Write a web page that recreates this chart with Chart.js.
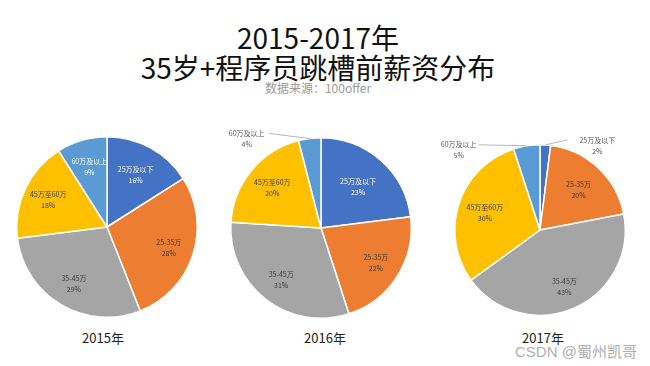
<!DOCTYPE html>
<html>
<head>
<meta charset="utf-8">
<script src="https://cdn.jsdelivr.net/npm/chart.js@4.4.1/dist/chart.umd.min.js"></script>
<style>
  html, body { margin: 0; padding: 0; background: #fff; }
  body { width: 650px; height: 366px; position: relative; overflow: hidden;
         font-family: "Noto Sans CJK SC", "Noto Sans", sans-serif; }
  .title { position: absolute; left: 0; width: 636px; text-align: center; color: #111; font-size: 28px; line-height: 30px; }
  .sub { position: absolute; left: 0; width: 636px; top: 79px; text-align: center; color: #9a9a9a; font-size: 12px; }
  .year { position: absolute; width: 80px; text-align: center; font-size: 13px; color: #222; }
  canvas { position: absolute; }
  .mark { position: absolute; left: 515px; top: 340px; font-size: 15px; color: #b0b0b0;
          font-family: "Liberation Sans", "Noto Sans CJK SC", sans-serif; }
</style>
</head>
<body>
<div class="title" style="top:22px">2015-2017年</div>
<div class="title" style="top:52px">35岁+程序员跳槽前薪资分布</div>
<div class="sub">数据来源：100offer</div>

<canvas id="pie2015" width="200" height="200" style="left:7px;top:127px"></canvas>
<canvas id="pie2016" width="200" height="200" style="left:221px;top:128px"></canvas>
<canvas id="pie2017" width="220" height="190" style="left:430px;top:135px"></canvas>

<div class="year" style="left:63px;top:328px">2015年</div>
<div class="year" style="left:285px;top:328px">2016年</div>
<div class="year" style="left:503px;top:328px">2017年</div>
<div class="mark">CSDN @蜀州凯哥</div>

<script>
const categories = ['25万及以下', '25-35万', '35-45万', '45万至60万', '60万及以上'];
const values2015 = [16, 28, 29, 18, 9];
const values2016 = [23, 22, 31, 20, 4];
const values2017 = [2, 20, 43, 30, 5];
const sliceColors = ['#4472C4', '#ED7D31', '#A5A5A5', '#FFC000', '#5B9BD5'];
const labelColors = ['#ffffff', '#3a3a3a', '#3a3a3a', '#3a3a3a', '#ffffff'];

// 画扇区标签，小扇区放在外面并画引线
const sliceLabels = {
    id: 'sliceLabels',
    afterDatasetsDraw(chart, args, opts) {
        const ctx = chart.ctx;
        const meta = chart.getDatasetMeta(0);
        const data = chart.data.datasets[0].data;
        ctx.save();
        ctx.font = '7px "Noto Sans CJK SC", sans-serif';
        ctx.textAlign = 'center';
        ctx.textBaseline = 'middle';
        meta.data.forEach((arc, i) => {
            const mid = (arc.startAngle + arc.endAngle) / 2;
            const r = arc.outerRadius;
            const text = chart.data.labels[i];
            const pct = data[i] + '%';
            const out = (opts.outside || {})[i];
            if (out) {
                const ex = arc.x + Math.cos(mid) * r;
                const ey = arc.y + Math.sin(mid) * r;
                const lx = ex + out.dx, ly = ey + out.dy;
                ctx.strokeStyle = '#a6a6a6';
                ctx.lineWidth = 0.8;
                ctx.beginPath();
                ctx.moveTo(ex, ey);
                ctx.lineTo(lx + out.lineX, ly - 5);
                ctx.stroke();
                ctx.fillStyle = '#555';
                ctx.fillText(text, lx, ly - 5);
                ctx.fillText(pct, lx, ly + 6);
            } else {
                const k = (opts.radius || {})[i] || 0.72;
                const x = arc.x + Math.cos(mid) * r * k;
                const y = arc.y + Math.sin(mid) * r * k;
                ctx.fillStyle = labelColors[i];
                ctx.fillText(text, x, y - 5);
                ctx.fillText(pct, x, y + 6);
            }
        });
        ctx.restore();
    }
};

function makePie(id, values, labelOpts, padding) {
    new Chart(document.getElementById(id), {
        type: 'pie',
        data: {
            labels: categories,
            datasets: [{
                data: values,
                backgroundColor: sliceColors,
                borderColor: '#ffffff',
                borderWidth: 1.5
            }]
        },
        options: {
            responsive: false,
            animation: false,
            layout: { padding: padding },
            plugins: {
                legend: { display: false },
                tooltip: { enabled: false },
                sliceLabels: labelOpts
            }
        },
        plugins: [sliceLabels]
    });
}

makePie('pie2015', values2015, { radius: { 0: 0.66, 4: 0.7 } }, 9);
makePie('pie2016', values2016, {
    radius: { 0: 0.62, 3: 0.7 },
    outside: { 4: { dx: -63, dy: 0, lineX: 22 } }
}, 9);
makePie('pie2017', values2017, {
    radius: { 1: 0.66, 3: 0.68 },
    outside: {
        0: { dx: 52, dy: 0, lineX: -30 },
        4: { dx: -68, dy: 4, lineX: 20 }
    }
}, { left: 24, right: 24, top: 9, bottom: 9 });
</script>
</body>
</html>
